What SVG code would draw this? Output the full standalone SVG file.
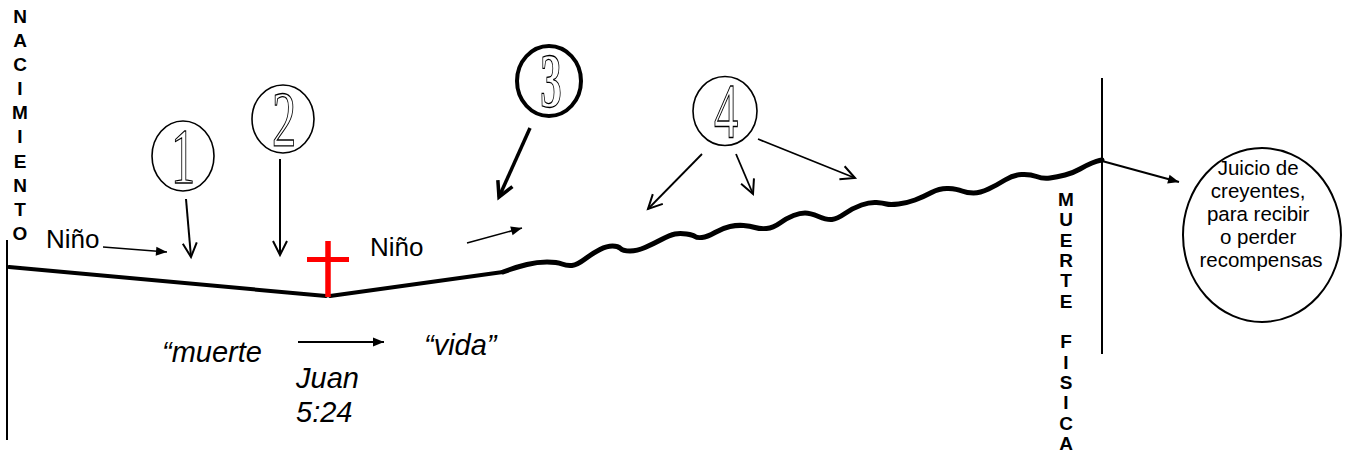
<svg xmlns="http://www.w3.org/2000/svg" width="1350" height="452" viewBox="0 0 1350 452">
<defs>
<style>
.lbl{font-family:"Liberation Sans",Arial,sans-serif;fill:#000}
.vert{font-family:"Liberation Sans",Arial,sans-serif;font-weight:bold;font-size:19px;fill:#000;text-anchor:middle}
.it{font-style:italic;font-size:29px}
.num{font-family:"Liberation Serif","Times New Roman",serif;font-size:78px;fill:#fff;stroke:#000;stroke-width:1.3;text-anchor:middle}
.ring{fill:#fff;stroke:#000;stroke-width:1.6}
.ln{fill:none;stroke:#000;stroke-linecap:round;stroke-linejoin:round}
</style>
<marker id="tri" markerUnits="userSpaceOnUse" markerWidth="12" markerHeight="10" refX="11" refY="4.5" orient="auto" overflow="visible">
<path d="M0,0 L11,4.5 L0,9 z" fill="#000"/>
</marker>
<marker id="vee" markerUnits="userSpaceOnUse" markerWidth="16" markerHeight="16" refX="14" refY="7" orient="auto" overflow="visible">
<path d="M0,0 L14,7 L0,14" fill="none" stroke="#000" stroke-width="2"/>
</marker>
<marker id="veeBold" markerUnits="userSpaceOnUse" markerWidth="18" markerHeight="18" refX="15" refY="8" orient="auto" overflow="visible">
<path d="M0,0 L15,8 L0,16" fill="none" stroke="#000" stroke-width="3.5" stroke-linejoin="miter"/>
</marker>
</defs>
<rect width="1350" height="452" fill="#fff"/>

<g id="timeline">
<line x1="7" y1="240" x2="7" y2="440" stroke="#000" stroke-width="2"/>
<polyline class="ln" stroke-width="4" points="9,267 326,296"/>
<polyline class="ln" stroke-width="4" points="330,296 503,272"/>
<path class="ln" stroke-width="5" d="M503,272 L510,269.5 Q517,267 527,264.5 Q537,262 547,262 Q557,262 562,264 Q567,266 572,265.5 Q577,265 585,259 Q593,253 600,249.5 Q607,246 612.5,246 Q618,246 620.5,248.5 Q623,251 630,251 Q637,251 645,247.5 Q653,244 661.5,239.5 Q670,235 675,234 Q680,233 686.5,234 Q693,235 695,236.5 Q697,238 702,237.5 Q707,237 715,232.5 Q723,228 730,226.5 Q737,225 743.5,225.5 Q750,226 755,227.5 Q760,229 766.5,228.5 Q773,228 780,223 Q787,218 793.5,215.5 Q800,213 805,213 Q810,213 818.5,216.5 Q827,220 832,219.5 Q837,219 845,213.5 Q853,208 861.5,205 Q870,202 876.5,202.5 Q883,203 886.5,204 Q890,205 898.5,204 Q907,203 915,200 Q923,197 931.5,192.5 Q940,188 948.5,188.5 Q957,189 962,191 Q967,193 973.5,193 Q980,193 988.5,189 Q997,185 1005,180 Q1013,175 1021.5,174.5 Q1030,174 1036.5,176.5 Q1043,179 1050,178 Q1057,177 1065,175 Q1073,173 1080,169 Q1087,165 1092,163 Q1097,161 1099.5,160.5 L1102,160"/>
<line x1="1102" y1="78" x2="1102" y2="354" stroke="#000" stroke-width="2"/>
</g>

<g id="cross">
<line x1="328" y1="241" x2="328" y2="297" stroke="#f00" stroke-width="5.5"/>
<line x1="307" y1="259.5" x2="349" y2="259.5" stroke="#f00" stroke-width="5"/>
</g>

<g id="nacimiento" class="vert">
<text x="20" y="23">N</text>
<text x="20" y="47">A</text>
<text x="20" y="71">C</text>
<text x="20" y="95">I</text>
<text x="20" y="119">M</text>
<text x="20" y="143">I</text>
<text x="20" y="168">E</text>
<text x="20" y="192">N</text>
<text x="20" y="216">T</text>
<text x="20" y="240">O</text>
</g>

<g id="muerte-fisica" class="vert">
<text x="1066" y="206">M</text>
<text x="1066" y="226">U</text>
<text x="1066" y="247">E</text>
<text x="1066" y="267">R</text>
<text x="1066" y="287">T</text>
<text x="1066" y="308">E</text>
<text x="1066" y="348">F</text>
<text x="1066" y="369">I</text>
<text x="1066" y="389">S</text>
<text x="1066" y="409">I</text>
<text x="1066" y="430">C</text>
<text x="1066" y="450">A</text>
</g>

<g id="nino1"><text class="lbl" x="46" y="248" font-size="26">Niño</text></g>
<g id="nino2"><text class="lbl" x="370" y="256" font-size="26">Niño</text></g>

<g id="n1">
<ellipse class="ring" cx="183" cy="156" rx="31" ry="35"/>
<text class="num" transform="translate(183,182) scale(0.62,1)">1</text>
</g>
<g id="n2">
<ellipse class="ring" cx="283" cy="119" rx="31" ry="34"/>
<text class="num" transform="translate(284,145) scale(0.62,1)">2</text>
</g>
<g id="n3">
<ellipse cx="549" cy="81" rx="32" ry="35" fill="#fff" stroke="#000" stroke-width="4"/>
<text class="num" font-weight="bold" stroke-width="2" transform="translate(551,107) scale(0.55,1)">3</text>
</g>
<g id="n4">
<ellipse class="ring" cx="725" cy="111" rx="32" ry="34.5"/>
<text class="num" transform="translate(726,137) scale(0.62,1)">4</text>
</g>

<g id="juicio">
<ellipse cx="1262" cy="235" rx="79" ry="87" fill="#fff" stroke="#000" stroke-width="2"/>
<text class="lbl" font-size="20.5" text-anchor="middle">
<tspan x="1261" y="175">Juicio de</tspan>
<tspan x="1261" y="198">creyentes,</tspan>
<tspan x="1261" y="221">para recibir</tspan>
<tspan x="1261" y="244">o perder</tspan>
<tspan x="1261" y="267">recompensas</tspan>
</text>
</g>

<g id="versiculo" class="lbl">
<text class="it" x="162" y="362">“muerte</text>
<text class="it" x="424" y="355">“vida”</text>
<text class="it" x="296" y="388">Juan</text>
<text class="it" x="296" y="422">5:24</text>
</g>

<g id="connectors">
<line x1="103" y1="247" x2="167" y2="252" stroke="#000" stroke-width="1.6" marker-end="url(#tri)"/>
<line x1="467" y1="243" x2="522" y2="228" stroke="#000" stroke-width="1.6" marker-end="url(#tri)"/>
<line x1="186" y1="199" x2="191" y2="257" stroke="#000" stroke-width="2" marker-end="url(#vee)"/>
<line x1="280" y1="159" x2="280" y2="255" stroke="#000" stroke-width="2" marker-end="url(#vee)"/>
<line x1="530" y1="128" x2="499" y2="197" stroke="#000" stroke-width="3.5" marker-end="url(#veeBold)"/>
<line x1="702" y1="154" x2="648" y2="209" stroke="#000" stroke-width="1.8" marker-end="url(#vee)"/>
<line x1="736" y1="154" x2="753" y2="194" stroke="#000" stroke-width="1.8" marker-end="url(#vee)"/>
<line x1="758" y1="139" x2="855" y2="178" stroke="#000" stroke-width="1.8" marker-end="url(#vee)"/>
<line x1="298" y1="342" x2="384" y2="342" stroke="#000" stroke-width="2" marker-end="url(#tri)"/>
<line x1="1102" y1="161" x2="1179" y2="182" stroke="#000" stroke-width="2" marker-end="url(#tri)"/>
</g>
</svg>
